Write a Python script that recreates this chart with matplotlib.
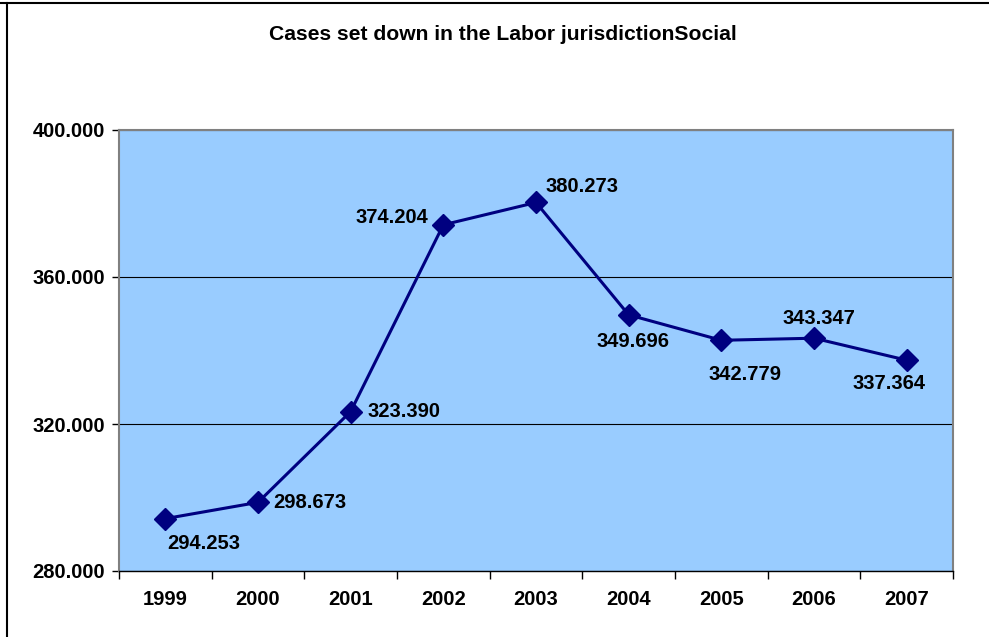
import matplotlib
matplotlib.use("Agg")
import matplotlib.pyplot as plt
from matplotlib.lines import Line2D

years = ["1999", "2000", "2001", "2002", "2003", "2004", "2005", "2006", "2007"]
cases = [294253, 298673, 323390, 374204, 380273, 349696, 342779, 343347, 337364]
labels = ["294.253", "298.673", "323.390", "374.204", "380.273", "349.696", "342.779", "343.347", "337.364"]
yticks = [280000, 320000, 360000, 400000]
ytick_labels = ["280.000", "320.000", "360.000", "400.000"]
title = "Cases set down in the Labor jurisdictionSocial"

# label centre offsets in pixels (dx, dy)
offsets = [(38, -25), (52, 0), (53, 0), (-51, 7), (46, 16),
           (4, -27), (24, -34), (5, 20), (-18, -23)]

plt.rcParams['font.family'] = ['Liberation Sans', 'DejaVu Sans']
fig = plt.figure(figsize=(9.89, 6.37), dpi=100)
ax = fig.add_axes([119/989, 1-571/637, (953-119)/989, (571-130)/637])
ax.set_facecolor("#99CCFF")

x = list(range(len(years)))
ax.plot(x, cases, color="#000080", lw=2.2, marker="D", markersize=11, zorder=3)
for i, (xi, v, lab) in enumerate(zip(x, cases, labels)):
    dx, dy = offsets[i]
    ax.annotate(lab, (xi, v), xytext=(dx, dy), textcoords="offset pixels",
                ha="center", va="center", fontsize=14.5, fontweight="bold", color="black")

ax.set_xlim(-0.5, len(years) - 0.5)
ax.set_ylim(280000, 400000)
ax.set_yticks(yticks)
ax.set_yticklabels(ytick_labels, fontsize=14.5, fontweight="bold")
ax.set_xticks(x)
ax.set_xticklabels(years, fontsize=14.5, fontweight="bold")
ax.tick_params(axis="x", length=0, pad=14)
ax.set_xticks([i + 0.5 for i in range(-1, len(years))], minor=True)
ax.tick_params(axis="x", which="minor", length=6, width=1, color="black", direction="out")
ax.tick_params(axis="y", length=5, width=1, direction="out", pad=5)
ax.yaxis.grid(True, color="black", lw=0.8)
ax.set_axisbelow(True)
for side in ["top", "right", "left"]:
    ax.spines[side].set_color("#808080")
    ax.spines[side].set_linewidth(1.5)
ax.spines["bottom"].set_color("black")
ax.spines["bottom"].set_linewidth(1)

fig.text(503/989, 1-35/637, title, ha="center", va="center", fontsize=15.2, fontweight="bold")

# outer border lines (top and left)
fig.add_artist(Line2D([0, 1], [1-3/637, 1-3/637], transform=fig.transFigure, color="black", lw=1.5))
fig.add_artist(Line2D([7/989, 7/989], [0, 1-3/637], transform=fig.transFigure, color="black", lw=1.5))

fig.savefig("out.png", dpi=100)
